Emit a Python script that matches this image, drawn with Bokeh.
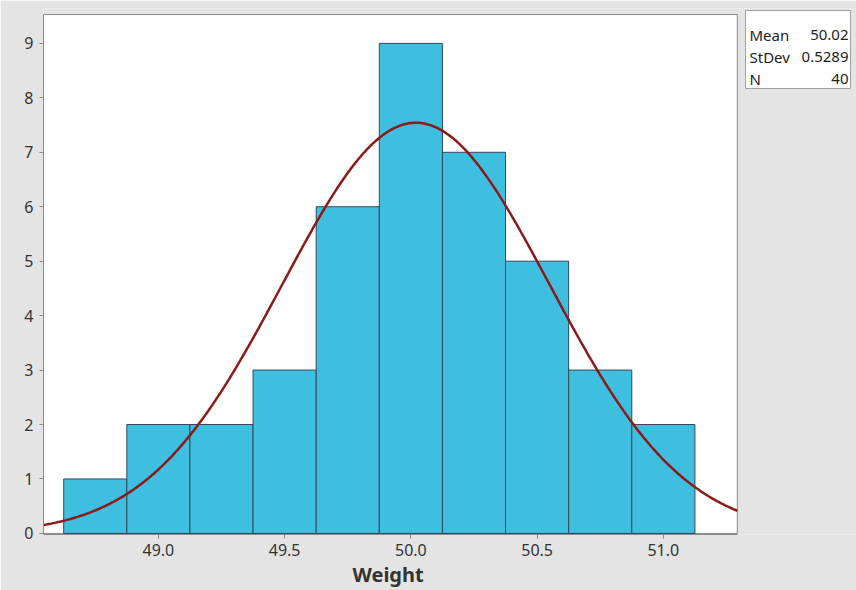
import numpy as np
from bokeh.plotting import figure
from bokeh.models import Range1d, FixedTicker, NumeralTickFormatter, ColumnDataSource, Title
from bokeh.core.properties import value
from bokeh.embed import file_html
from bokeh.resources import INLINE

# ---- data ----
bin_centers = [48.75, 49.0, 49.25, 49.5, 49.75, 50.0, 50.25, 50.5, 50.75, 51.0]
counts = [1, 2, 2, 3, 6, 9, 7, 5, 3, 2]
bin_width = 0.25
mean = 50.02
stdev = 0.5289
n_obs = 40
x_ticks = [49.0, 49.5, 50.0, 50.5, 51.0]
y_ticks = [0, 1, 2, 3, 4, 5, 6, 7, 8, 9]
stat_names = ["Mean", "StDev", "N"]
stat_values = ["50.02", "0.5289", "40"]
x_label = "Weight"

FONT = "Noto Sans"
BG = "#e4e4e4"
BAR = "#3fbfe0"
EDGE = "#2f4a57"
CURVE = "#8b1a1a"
AXIS = "#8a8a8a"
TXT = "#333333"

# plot-area extents (data units)
x0, x1 = 48.545, 51.293
y1 = 9.53
# full frame extents (plot area + the room on the right for the stats box)
fx_end = 51.765
fy_start, fy_end = -0.02, 9.641

W, H = 856, 590
p = figure(width=W, height=H, x_range=Range1d(x0, fx_end), y_range=Range1d(fy_start, fy_end),
           output_backend="svg", toolbar_location=None,
           min_border_left=43, min_border_right=0, min_border_top=8, min_border_bottom=56)
p.background_fill_color = BG
p.border_fill_color = BG
p.outline_line_color = None
p.xgrid.visible = False
p.ygrid.visible = False

# pixel-like ranges for the stats box
p.extra_x_ranges = {"px": Range1d(43, W)}
p.extra_y_ranges = {"py": Range1d(534, 8)}

# white plot area with grey outline
p.quad(left=x0, right=x1, bottom=0, top=y1, fill_color="white", line_color=AXIS, line_width=1)

src = ColumnDataSource(dict(
    left=[c - bin_width / 2 for c in bin_centers],
    right=[c + bin_width / 2 for c in bin_centers],
    top=counts,
))
p.quad(left="left", right="right", bottom=0, top="top", source=src,
       fill_color=BAR, line_color=EDGE, line_width=1)

# fitted normal curve from the shown Mean / StDev / N
xs = np.linspace(x0, x1, 400)
ys = n_obs * bin_width * np.exp(-0.5 * ((xs - mean) / stdev) ** 2) / (stdev * np.sqrt(2 * np.pi))
p.line(xs, ys, line_color=CURVE, line_width=2.5)

for ax in (p.xaxis[0], p.yaxis[0]):
    ax.major_tick_line_color = AXIS
    ax.major_tick_in = 0
    ax.major_tick_out = 4
    ax.minor_tick_line_color = None
    ax.major_label_text_font = FONT
    ax.major_label_text_font_size = "16px"
    ax.major_label_text_color = TXT
    ax.axis_line_color = AXIS

p.xaxis.bounds = (x0, x1)
p.yaxis.bounds = (fy_start, y1)
p.xaxis.ticker = FixedTicker(ticks=x_ticks)
p.xaxis.formatter = NumeralTickFormatter(format="0.0")
p.xaxis.major_label_standoff = 5
p.yaxis.ticker = FixedTicker(ticks=y_ticks)
p.yaxis.major_label_standoff = 6

# x-axis title, centred under the plot area (not the whole frame)
p.add_layout(Title(text=x_label, align="left", offset=309, standoff=0,
                   text_font=FONT, text_font_size="20px", text_font_style="bold",
                   text_color=TXT), "below")

# ---- stats box ----
p.quad(left=745, right=850, top=10, bottom=88, fill_color="white", line_color="#a0a0a0",
       line_width=1, x_range_name="px", y_range_name="py")
p.text(x=[749, 749, 749], y=[34, 56, 78], text=stat_names, text_font=value(FONT),
       text_font_size="15px", text_color="#222222", text_baseline="alphabetic", text_align="left",
       x_range_name="px", y_range_name="py")
p.text(x=[848, 848, 848], y=[34, 56, 78], text=stat_values, text_font=value(FONT),
       text_font_size="15px", text_color="#222222", text_baseline="alphabetic", text_align="right",
       x_range_name="px", y_range_name="py")

html = file_html(p, INLINE)
html = html.replace("<body>", '<body style="background-color:%s;">' % BG, 1)
open("out.html", "w").write(html)
